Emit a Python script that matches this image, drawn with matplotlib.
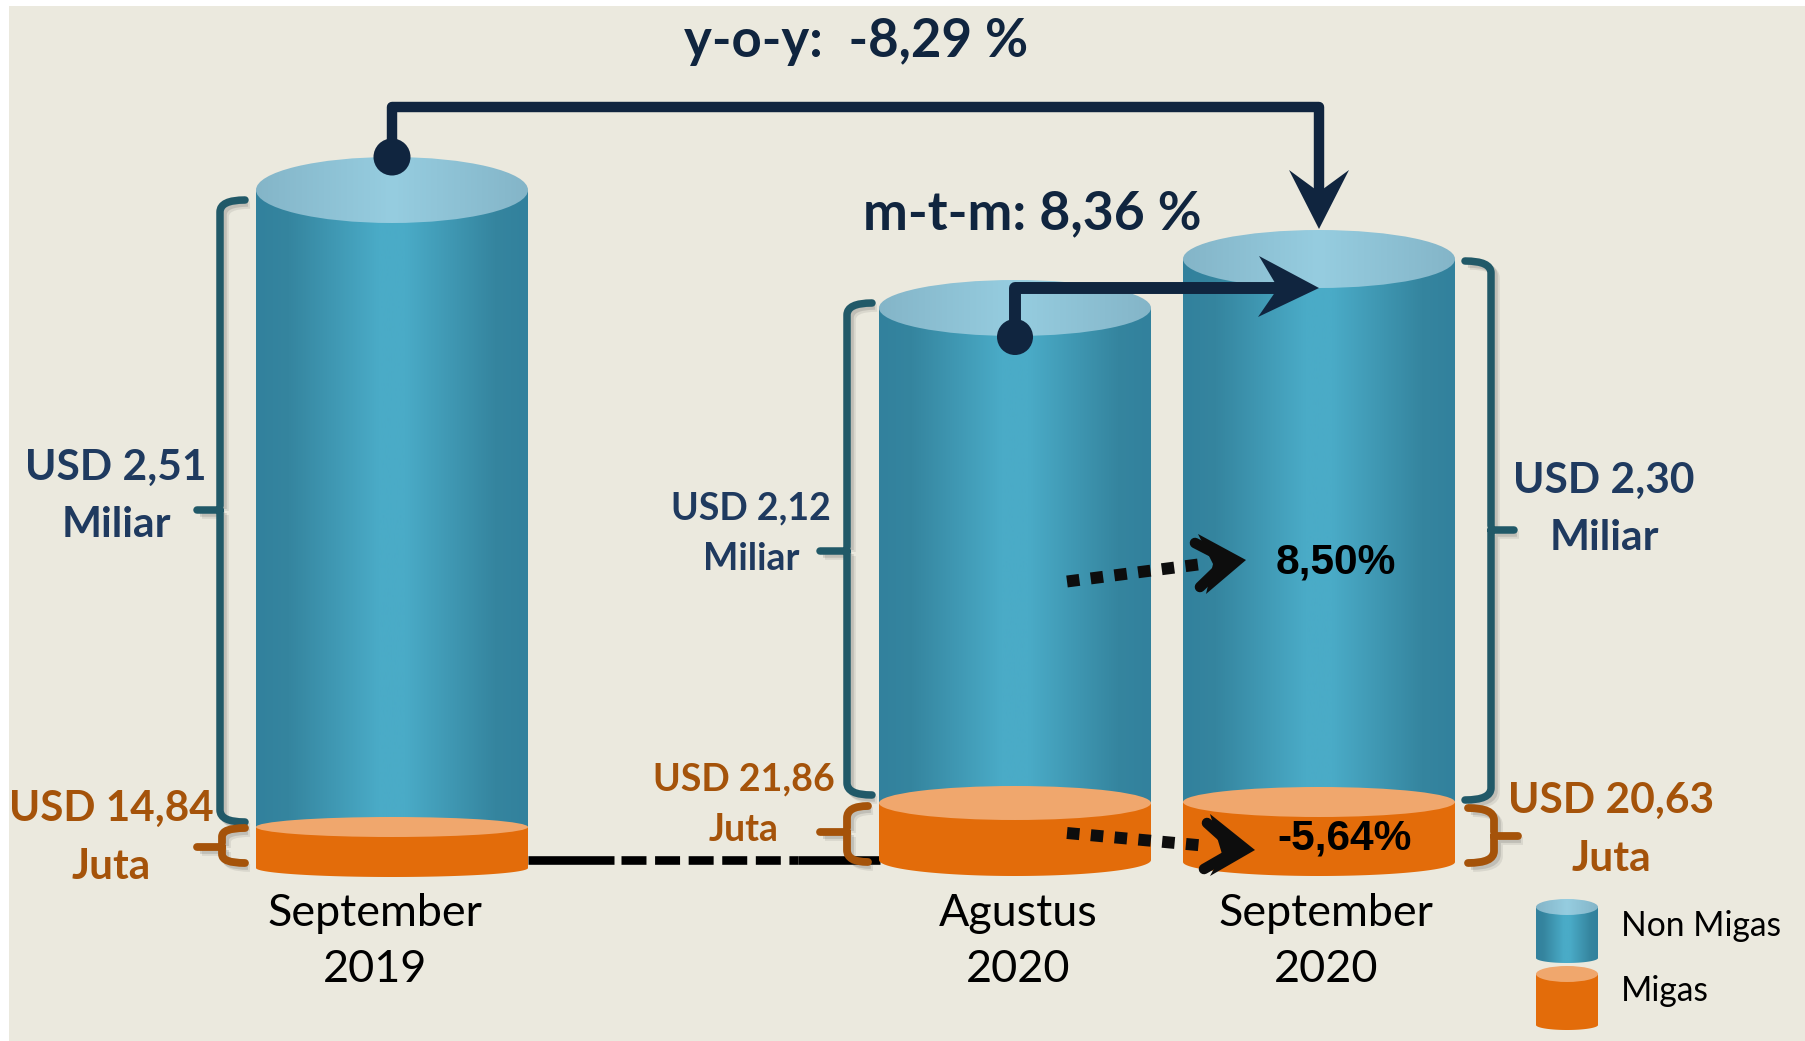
import numpy as np
import matplotlib
matplotlib.use("Agg")
import matplotlib.pyplot as plt
import matplotlib.colors as mcolors
from matplotlib.patches import Ellipse, PathPatch, Polygon, Rectangle
from matplotlib.path import Path

plt.rcParams["font.family"] = ["Lato", "DejaVu Sans"]

# data
periods = ["September\n2019", "Agustus\n2020", "September\n2020"]
non_migas = [2.51, 2.12, 2.30]  # USD miliar
migas = [14.84, 21.86, 20.63]  # USD juta
yoy = -8.29
mtm = 8.36
mtm_non_migas = 8.50
mtm_migas = -5.64
legend_labels = ["Non Migas", "Migas"]

NAVY = "#10253f"
LABEL_BLUE = "#1f3a5f"
BROWN = "#a5530a"
TEAL = "#215968"
ORANGE = "#e36c0a"
ORANGE_TOP = "#f0a76d"
BACKGROUND = "#ebe9de"

body_cmap = mcolors.LinearSegmentedColormap.from_list(
    "body",
    [(0, "#32819d"), (0.12, "#35859f"), (0.45, "#4aabc7"), (0.55, "#4aabc7"), (0.88, "#35859f"), (1, "#32819d")],
)
top_cmap = mcolors.LinearSegmentedColormap.from_list(
    "top", [(0, "#84b5c8"), (0.5, "#96cde0"), (1, "#84b5c8")]
)

# the bars in the picture are not to a linear scale, so calibrate px per value
NM_VALUES, NM_PX = [2.12, 2.30, 2.51], [495, 543, 637]
MG_VALUES, MG_PX = [14.84, 20.63, 21.86], [41, 60, 57]

# layout in pixels of the reference
BAR_LEFT = [256, 879, 1183]
BAR_WIDTH = 272
BAR_BASE = [868, 860, 862]
RY_NM = [33, 28, 29]
RY_MG = [10, 17, 15]


def fmt(value, spaced=False):
    return f"{value:.2f}".replace(".", ",") + (" %" if spaced else "%")


def cylinder(ax, x0, x1, top, bottom, ry_top, ry_bot, body, cap, z):
    xc, rx = (x0 + x1) / 2, (x1 - x0) / 2
    t = np.linspace(np.pi, 0, 80)
    verts = [(x0, top)] + list(zip(xc + rx * np.cos(t), bottom + ry_bot * np.sin(t))) + [(x1, top)]
    patch = Polygon(verts, closed=True, facecolor="none", edgecolor="none", zorder=z)
    ax.add_patch(patch)
    grad = np.linspace(0, 1, 256).reshape(1, -1)
    ymax = bottom + ry_bot + 1
    if isinstance(body, str):
        patch.set_facecolor(body)
    else:
        im = ax.imshow(grad, cmap=body, extent=(x0, x1, ymax, top), aspect="auto", zorder=z)
        im.set_clip_path(patch)
    if isinstance(cap, str):
        ax.add_patch(Ellipse((xc, top), x1 - x0, 2 * ry_top, facecolor=cap, edgecolor="none", zorder=z + 0.1))
    else:
        ell = Ellipse((xc, top), x1 - x0, 2 * ry_top, facecolor="none", edgecolor="none", zorder=z + 0.1)
        ax.add_patch(ell)
        im = ax.imshow(grad, cmap=cap, extent=(x0, x1, top + ry_top, top - ry_top), aspect="auto", zorder=z + 0.1)
        im.set_clip_path(ell)


def bracket(ax, x_end, x_v, x_tick, y0, y1, ymid, color, lw):
    c = min(12, (y1 - y0) / 4)
    verts = [
        (x_end, y0), (x_v, y0), (x_v, y0 + c),
        (x_v, ymid - 4), (x_v, ymid), (x_tick, ymid),
        (x_v, ymid), (x_v, ymid + 4),
        (x_v, y1 - c), (x_v, y1), (x_end, y1),
    ]
    codes = [Path.MOVETO, Path.CURVE3, Path.CURVE3, Path.LINETO, Path.MOVETO, Path.LINETO,
             Path.MOVETO, Path.LINETO, Path.LINETO, Path.CURVE3, Path.CURVE3]
    path = Path(verts, codes)
    for off, alpha in ((5, 0.10), (3, 0.16)):
        shadow = Path(np.array(verts) + off, codes)
        ax.add_patch(PathPatch(shadow, fill=False, edgecolor="#404040", lw=lw, alpha=alpha, zorder=3))
    ax.add_patch(PathPatch(path, fill=False, edgecolor=color, lw=lw, capstyle="round", joinstyle="round", zorder=4))


def label(ax, x, y0, y1, lines, color, size):
    for y, line in zip((y0, y1), lines):
        ax.text(x, y, line, ha="center", va="center", color=color, fontsize=size, fontweight="bold", zorder=8)


def main():
    fig = plt.figure(figsize=(18.06, 10.41), dpi=100, facecolor="white")
    ax = fig.add_axes([0, 0, 1, 1])
    ax.set_xlim(0, 1806)
    ax.set_ylim(1041, 0)
    ax.set_autoscale_on(False)
    ax.axis("off")
    ax.add_patch(Rectangle((9, 6), 1797, 1035, facecolor=BACKGROUND, edgecolor="none", zorder=0))

    # dashed link along the base
    ax.plot([528, 614], [860, 860], color="black", lw=6.2, solid_capstyle="butt", zorder=1)
    ax.plot([798, 880], [860, 860], color="black", lw=6.2, solid_capstyle="butt", zorder=1)
    ax.plot([621, 798], [860, 860], color="black", lw=6.2, dashes=(2.9, 1.0), dash_capstyle="butt", zorder=1)

    # cylinders
    nm_h = np.interp(non_migas, NM_VALUES, NM_PX)
    mg_h = np.interp(migas, MG_VALUES, MG_PX)
    for i in range(3):
        x0, x1 = BAR_LEFT[i], BAR_LEFT[i] + BAR_WIDTH
        mg_top = BAR_BASE[i] - mg_h[i]
        nm_top = mg_top - nm_h[i]
        cylinder(ax, x0, x1, nm_top, mg_top, RY_NM[i], 0, body_cmap, top_cmap, 2)
        cylinder(ax, x0, x1, mg_top, BAR_BASE[i], RY_MG[i], RY_MG[i] - 1, ORANGE, ORANGE_TOP, 2.5)
        month, year = periods[i].split("\n")
        xc = x0 + BAR_WIDTH / 2 + [-17, 3, 7][i]
        ax.text(xc, 913, month, ha="center", va="center", fontsize=32.3, color="black")
        ax.text(xc, 970, year, ha="center", va="center", fontsize=32.3, color="black")

    # brackets
    bracket(ax, 245, 220, 197, 200, 822, 510, TEAL, 5.4)
    bracket(ax, 245, 222, 197, 828, 863, 847, BROWN, 5.6)
    bracket(ax, 872, 847, 820, 303, 795, 551, TEAL, 5.4)
    bracket(ax, 868, 847, 820, 806, 862, 832, BROWN, 5.6)
    bracket(ax, 1465, 1491, 1514, 261, 800, 530, TEAL, 5.4)
    bracket(ax, 1468, 1494, 1518, 808, 863, 836, BROWN, 5.6)

    # value labels
    nm_text = [f"USD {fmt(v)[:-1]}" for v in non_migas]
    mg_text = [f"USD {fmt(v)[:-1]}" for v in migas]
    label(ax, 116, 468, 525, (nm_text[0], "Miliar"), LABEL_BLUE, 30.6)
    label(ax, 751, 508, 559, (nm_text[1], "Miliar"), LABEL_BLUE, 27)
    label(ax, 1604, 481, 538, (nm_text[2], "Miliar"), LABEL_BLUE, 30.6)
    label(ax, 111, 809, 867, (mg_text[0], "Juta"), BROWN, 30.4)
    label(ax, 744, 779, 830, (mg_text[1], "Juta"), BROWN, 27)
    label(ax, 1611, 801, 859, (mg_text[2], "Juta"), BROWN, 30.6)

    # y-o-y connector
    ax.plot([392, 392, 1319, 1319], [157, 107, 107, 200], color=NAVY, lw=7.5, solid_joinstyle="round", zorder=6)
    ax.add_patch(Ellipse((392, 157), 37, 37, facecolor=NAVY, edgecolor="none", zorder=6))
    ax.add_patch(Polygon([(1319, 229), (1289, 170), (1319, 192), (1349, 170)], facecolor=NAVY, edgecolor="none", zorder=6))

    # m-t-m connector
    ax.plot([1015, 1015, 1285], [337, 288, 288], color=NAVY, lw=8.6, solid_joinstyle="round", zorder=6)
    ax.add_patch(Ellipse((1015, 337), 36, 36, facecolor=NAVY, edgecolor="none", zorder=6))
    ax.add_patch(Polygon([(1319, 288), (1259, 256), (1278, 288), (1258, 317)], facecolor=NAVY, edgecolor="none", zorder=6))

    ax.text(856, 41, f"y-o-y:  {fmt(yoy, True)}", ha="center", va="center", fontsize=38, fontweight="bold", color=NAVY, zorder=8)
    ax.text(1032, 214, f"m-t-m: {fmt(mtm, True)}", ha="center", va="center", fontsize=38.5, fontweight="bold", color=NAVY, zorder=8)

    # dotted arrows between the bars
    for start, end, tip, arm0, arm1 in (
        ((1067, 581.5), (1202, 564), (1246, 560), (1195, 543), (1200, 587)),
        ((1067, 833), (1208, 846), (1255, 850), (1207, 823), (1204, 869)),
    ):
        ax.plot([start[0], end[0]], [start[1], end[1]], color="#0d0d0d", lw=8.6, dashes=(1.05, 0.95), dash_capstyle="butt", zorder=6)
        ax.plot([arm0[0], tip[0] - 18, arm1[0]], [arm0[1], tip[1], arm1[1]], color="#0d0d0d", lw=7.6, solid_capstyle="round", solid_joinstyle="round", zorder=6)
        ax.add_patch(Polygon(
            [(arm0[0] + 3, arm0[1] - 9), tip, (arm1[0] + 6, arm1[1] + 7), (tip[0] - 33, tip[1] + 4)],
            facecolor="#0d0d0d", edgecolor="none", zorder=6,
        ))

    ax.text(1336, 562, fmt(mtm_non_migas), ha="center", va="center", fontsize=30.6, fontweight="bold", color="black", family=["Liberation Sans"], zorder=8)
    ax.text(1345, 838, fmt(mtm_migas), ha="center", va="center", fontsize=30.6, fontweight="bold", color="black", family=["Liberation Sans"], zorder=8)

    # legend
    cylinder(ax, 1536, 1598, 907, 958, 8, 5, body_cmap, top_cmap, 2)
    cylinder(ax, 1536, 1598, 974, 1025, 8, 5, ORANGE, ORANGE_TOP, 2)
    ax.text(1621, 926, legend_labels[0], ha="left", va="center", fontsize=24.2, color="black")
    ax.text(1621, 991, legend_labels[1], ha="left", va="center", fontsize=24.2, color="black")

    ax.set_xlim(0, 1806)
    ax.set_ylim(1041, 0)
    fig.savefig("out.png", dpi=100, facecolor="white")


if __name__ == "__main__":
    main()
